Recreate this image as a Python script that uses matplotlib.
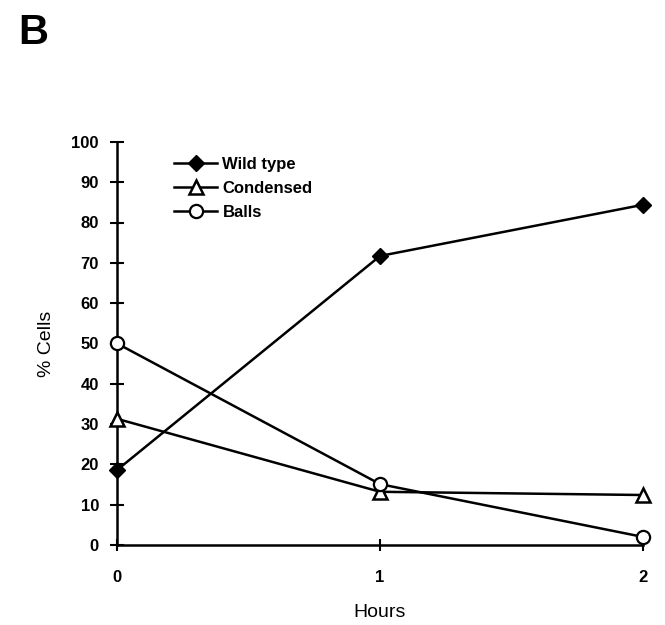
import matplotlib
matplotlib.use('Agg')
import matplotlib.pyplot as plt

hours = [0, 1, 2]
wild_type = [18.6, 71.7, 84.4]
condensed = [31.3, 13.2, 12.4]
balls = [50.0, 15.1, 2.0]
yticks = [0, 10, 20, 30, 40, 50, 60, 70, 80, 90, 100]

plt.rcParams['font.family'] = ['Liberation Sans', 'DejaVu Sans']

fig = plt.figure(figsize=(6.65, 6.25), dpi=100)
ax = fig.add_axes([0.176, 0.128, 0.791, 0.645])

ax.plot(hours, wild_type, color='black', lw=1.8, marker='D', ms=8.5,
        mfc='black', mec='black', label='Wild type', clip_on=False, zorder=3)
ax.plot(hours, condensed, color='black', lw=1.8, marker='^', ms=9.5,
        mfc='white', mec='black', mew=1.8, label='Condensed', clip_on=False, zorder=3)
ax.plot(hours, balls, color='black', lw=1.8, marker='o', ms=9.5,
        mfc='white', mec='black', mew=1.6, label='Balls', clip_on=False, zorder=3)

ax.set_xlim(0, 2)
ax.set_ylim(0, 100)
ax.set_xticks(hours)
ax.set_yticks(yticks)
for s in ['top', 'right']:
    ax.spines[s].set_visible(False)
for s in ['left', 'bottom']:
    ax.spines[s].set_linewidth(1.8)
ax.tick_params(axis='y', direction='inout', length=10, width=1.5, labelsize=12, pad=8)
ax.tick_params(axis='x', direction='inout', length=8, width=1.5, labelsize=12, pad=14)
for lab in ax.get_xticklabels() + ax.get_yticklabels():
    lab.set_fontweight('bold')

ax.set_xlabel('Hours', fontsize=14, labelpad=14)
ax.set_ylabel('% Cells', fontsize=14, labelpad=12)

leg = ax.legend(loc='upper left', bbox_to_anchor=(0.08, 1.0), frameon=False,
                handlelength=2.6, handletextpad=0.3, labelspacing=0.55,
                prop={'weight': 'bold', 'size': 12})

fig.text(0.028, 0.93, 'B', fontsize=30, fontweight='bold')

fig.savefig('out.png', dpi=100)
